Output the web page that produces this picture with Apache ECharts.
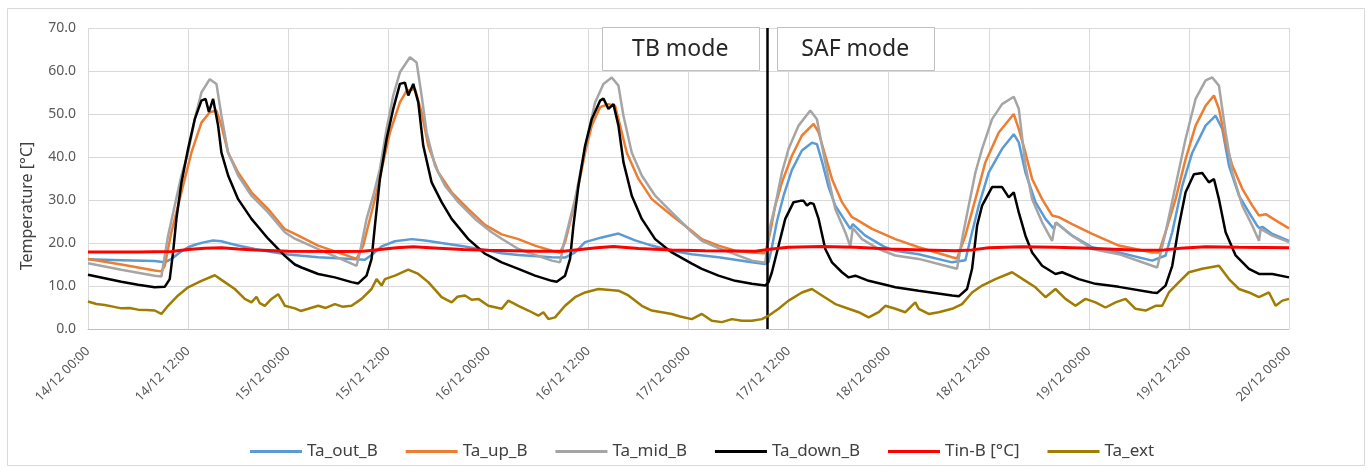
<!DOCTYPE html>
<html>
<head>
<meta charset="utf-8">
<script src="https://cdn.jsdelivr.net/npm/echarts@6/dist/echarts.min.js"></script>
<style>
html,body{margin:0;padding:0;background:#fff;}
#c{width:1368px;height:470px;}
</style>
</head>
<body>
<div id="c"></div>
<script>
// ---- data (hours since 14/12 00:00, temperature °C) ----
const tickLabels = ['14/12 00:00','14/12 12:00','15/12 00:00','15/12 12:00','16/12 00:00','16/12 12:00','17/12 00:00','17/12 12:00','18/12 00:00','18/12 12:00','19/12 00:00','19/12 12:00','20/12 00:00'];
const seriesNames = ['Ta_out_B','Ta_up_B','Ta_mid_B','Ta_down_B','Tin-B [°C]','Ta_ext'];
const modeSwitch = 81.5;
const modeLabels = ['TB mode','SAF mode'];

const taOut = [[0,16.2],[4,16.0],[8,15.8],[9.2,15.5],[10,16.3],[11,17.8],[12,19.0],[13,19.7],[14,20.2],[15,20.6],[16,20.4],[17,19.9],[18,19.4],[20,18.6],[22,17.9],[24,17.3],[27.6,16.7],[31.6,16.3],[33.2,16.1],[34,17.2],[35.2,19.2],[36.8,20.4],[38.8,20.9],[40.4,20.6],[42.4,20.0],[44.8,19.3],[47.6,18.4],[49.6,17.6],[51.6,17.2],[55.6,16.7],[57.2,16.6],[58.4,17.8],[59.6,20.2],[61.6,21.3],[63.6,22.2],[65.6,20.6],[67.6,19.4],[70,18.2],[72.4,17.4],[75.6,16.7],[79.6,15.5],[81.2,15.1],[81.6,15.6],[82.0,19],[82.6,25],[83.4,31],[84.4,37],[85.6,41.5],[86.8,43.3],[87.4,43],[88.0,39],[88.8,33],[89.6,28.7],[90.8,25.1],[91.4,23.3],[91.7,24.4],[93.2,21.7],[95.6,19.0],[96.8,18.2],[99.6,17.4],[103.6,15.5],[105.2,16.0],[106,22.5],[106.8,28.7],[108,36.4],[109.6,41.9],[111,45.3],[111.6,43.4],[112.4,36.4],[113.6,29.5],[114.8,25.6],[115.8,23.3],[116.1,24.7],[118,21.7],[120.4,19.0],[123.6,17.8],[127.6,15.9],[129.2,17.1],[130,22.5],[131.2,33.3],[132.4,41],[134,47.3],[135.2,49.6],[136,46.5],[136.8,38],[138,31],[139.2,27.1],[140.2,24],[140.5,23.4],[140.8,23.8],[142,22.1],[144,20.5]];

const taUp = [[0,16.3],[4,15.0],[8,13.6],[8.8,13.4],[9.2,14.7],[10,22.5],[10.8,28.7],[11.6,34.9],[12.4,41],[13.6,48],[14.6,50.4],[15.4,50.8],[16,47.3],[16.8,41],[18,36.4],[19.6,31.8],[21.6,27.9],[23.6,23.2],[24.8,22.1],[27.6,19.4],[31.6,16.7],[32.2,16.3],[33,19.4],[33.8,25.6],[34.6,31.8],[35.4,38.8],[36.2,45.7],[37.4,52.7],[38.2,55.4],[39.2,55.8],[40,50.4],[40.8,42.6],[42,36.4],[43.6,31.8],[45.6,27.9],[47.6,24.2],[49.6,22.0],[51.6,20.9],[53.6,19.4],[55.6,18.2],[56.6,17.8],[57.2,20.2],[58,26.4],[58.8,33.3],[59.6,41],[60.4,47.3],[61.4,51.6],[62.4,52.3],[63.2,51.9],[63.8,47.3],[64.6,41],[66,34.9],[67.6,30.2],[70,26.4],[72.4,22.8],[73.6,20.9],[75.6,19.4],[77.6,18.2],[79.6,17.8],[81.2,17.6],[81.8,22.5],[82.4,28.7],[83.2,34.1],[84.4,40.3],[85.6,45],[87,47.7],[87.6,45.7],[88.4,40.3],[89.2,34.9],[90.4,29.5],[91.6,26],[92,25.6],[94,23.3],[96.8,20.9],[99.6,19],[103.6,16.7],[104.2,16.4],[105.2,21.7],[106.4,30.2],[107.6,38.8],[109.2,45.7],[111,50],[111.6,46.5],[112.4,41],[113.2,34.9],[114.4,30.2],[115.6,26.4],[116.4,26],[118,24.4],[120.4,22.1],[123.6,19.4],[127.6,17.8],[128.4,17.8],[129.2,22.5],[130.4,30.2],[131.6,39.5],[132.8,47.3],[134,51.9],[135,54.3],[135.6,51.2],[136.4,43.4],[137.2,38],[138.4,32.6],[139.6,28.7],[140.4,26.4],[141.2,26.7],[142.8,24.8],[144,23.4]];

const taMid = [[0,15.3],[4,13.8],[8,12.4],[8.8,12.2],[9.6,21.7],[10.4,28.7],[11.2,35.7],[12,41],[12.8,48.8],[13.6,55],[14.6,58.1],[15.4,57],[16,49.6],[16.8,41],[18,35.7],[19.6,31],[21.6,27.1],[23.6,22.5],[24.8,21.0],[27.6,18.6],[31.6,15.2],[32.2,14.7],[32.6,17.8],[33.4,25.6],[34.2,31],[35,37.2],[35.8,46.5],[36.6,54.3],[37.4,59.7],[38.6,63.2],[39.4,62],[40,54.3],[40.6,45.7],[41.6,38],[42.8,33.3],[44.4,29.5],[46.4,25.6],[48.4,22.5],[49.6,21.0],[51.6,18.6],[55.6,15.9],[56.6,15.5],[57,19.4],[57.6,24],[58.4,30.2],[59.2,38],[60,45.7],[60.8,52.7],[61.8,57],[62.8,58.5],[63.6,56.6],[64.2,49.6],[65.2,41],[66.4,35.7],[68,31],[70,27.1],[72.4,22.5],[73.6,20.5],[75.6,18.8],[79.6,15.9],[81.2,15.4],[81.8,24],[82.4,28.7],[83.2,36.4],[84,41.9],[85.2,47.3],[86.6,50.8],[87.4,48.8],[88,42.6],[88.8,34.9],[89.6,27.9],[90.8,22.5],[91.4,19.2],[91.7,23.5],[92.8,20.9],[94.8,18.6],[96.8,17.1],[99.6,16.3],[103.6,14.3],[104.2,14],[104.8,20.9],[105.6,28.7],[106.4,36.4],[107.2,41.9],[108.4,48.8],[109.6,52.3],[111,54],[111.6,51.2],[112.4,38],[113.2,30.2],[114.4,24.8],[115.6,20.5],[116.0,24.8],[118,21.7],[120.4,18.6],[123.6,17.4],[127.6,14.7],[128.2,14.3],[129.2,22.5],[130.4,33.3],[131.6,44.2],[132.8,53.5],[134,57.8],[134.8,58.5],[135.6,56.6],[136.4,45.7],[137.2,36.4],[138.4,28.7],[139.6,24],[140.4,20.5],[140.6,23.3],[142,21.7],[144,20.2]];

const taDown = [[0,12.6],[2,11.8],[4,11.0],[6,10.3],[8,9.7],[9.2,9.8],[9.8,11.6],[10.2,17.8],[10.6,25.6],[11.2,34],[12,41.9],[12.8,48.8],[13.6,53.1],[14.1,53.5],[14.5,50.5],[15,53.5],[15.6,47.3],[16,41],[16.8,35.7],[18,30.2],[19.6,25.6],[21.6,21],[23.6,17],[24.8,15],[25.6,14.3],[27.6,12.8],[29.6,12],[31.6,10.9],[32.4,10.6],[33.4,12.4],[34,16.3],[34.4,24],[35,34.9],[35.8,44.2],[36.6,51.2],[37.4,57],[38,57.3],[38.4,54.3],[39,57],[39.6,52.7],[40.2,42.6],[41.2,34.1],[42.4,29.5],[43.6,25.6],[45.6,20.9],[47.6,17.5],[48.8,16.3],[49.6,15.5],[51.6,14],[53.6,12.4],[55.6,11.2],[56.2,11],[57.2,12.4],[57.8,16.3],[58.2,24],[58.8,33.3],[59.6,42.6],[60.4,48.8],[61.4,53.1],[61.8,53.6],[62.4,51.2],[63,52.3],[63.6,47.3],[64.2,38.8],[65.2,31],[66.4,25.6],[68,20.9],[70,17.8],[72.4,15.2],[73.6,14],[75.6,12.4],[77.6,11.2],[79.6,10.5],[81.2,10.1],[81.6,10.9],[82,13.2],[82.8,19.4],[83.6,25.6],[84.6,29.5],[85.4,29.8],[85.8,29.8],[86.2,28.7],[86.6,29.3],[87,29.1],[87.6,25.6],[88.4,18.6],[89.2,15.5],[90.4,13.2],[91.2,12],[92,12.4],[93.6,11.2],[95.6,10.3],[96.8,9.7],[99.6,8.9],[103.6,7.8],[104.4,7.6],[105.4,9.3],[106,14],[106.6,24],[107.2,28.7],[108.4,33],[109.6,33],[110.4,30.6],[111,31.8],[111.6,27.1],[112.4,21.7],[113.2,17.8],[114.4,14.7],[116,12.8],[116.8,13.2],[118.8,11.6],[120.8,10.5],[123.6,9.8],[127.6,8.5],[128.2,8.4],[129.2,10.1],[130,14.7],[130.8,24],[131.6,31.8],[132.6,36],[133.6,36.3],[134.4,34.1],[135,34.9],[135.6,30.2],[136.4,22.5],[137.6,17.1],[139.2,14],[140.4,12.8],[142,12.8],[144,12]];

const tinB = [[0,17.9],[6,17.9],[10,18.0],[12,18.5],[14,18.8],[16,18.9],[18,18.6],[20,18.4],[24,18.1],[30,18.0],[33,18.1],[35,18.5],[37,18.9],[39,19.1],[42,18.8],[45,18.5],[48,18.3],[54,18.1],[57,18.1],[59,18.5],[61,18.9],[63,19.2],[66,18.7],[70,18.4],[74,18.2],[80,18.1],[82,18.6],[84,19.0],[88,19.2],[92,19.0],[96,18.6],[100,18.4],[104,18.2],[106,18.4],[108,18.9],[112,19.1],[116,19.0],[120,18.8],[126,18.3],[129,18.4],[131,18.8],[134,19.1],[138,19.0],[144,18.9]];

const taExt = [[0,6.4],[1,5.8],[2,5.6],[3,5.2],[4,4.8],[5,4.9],[6,4.5],[7,4.4],[8,4.3],[8.8,3.5],[9.6,5.4],[10.8,7.8],[12,9.7],[13.6,11.2],[15.2,12.5],[16.4,10.9],[17.6,9.3],[18.8,7],[19.6,6.2],[20.2,7.5],[20.6,6],[21.2,5.4],[22,7],[22.8,8.1],[23.3,6.5],[23.6,5.4],[24.8,4.8],[25.5,4.2],[26.4,4.7],[27.6,5.4],[28.5,4.9],[29.6,5.8],[30.5,5.2],[31.6,5.4],[32.8,7],[34,9.3],[34.6,11.6],[35.2,10.1],[35.6,11.6],[36.8,12.4],[38.4,13.8],[39.6,12.8],[40.8,10.9],[42.4,7.4],[43.6,6.2],[44.3,7.5],[45.2,7.8],[46,6.8],[46.8,7],[48,5.4],[49.6,4.7],[50.4,6.6],[51.6,5.4],[52.8,4.3],[54,3.1],[54.6,3.9],[55.2,2.3],[56,2.7],[57.2,5.4],[58.4,7.4],[59.6,8.5],[61.2,9.3],[63.6,8.9],[64.8,7.8],[66.4,5.4],[67.6,4.3],[70,3.5],[71,2.9],[72.4,2.3],[73.6,3.5],[74.8,1.9],[76,1.6],[77.2,2.3],[78.4,1.9],[79.6,1.9],[80.8,2.3],[81.6,3.1],[82.8,4.7],[84,6.6],[85.6,8.5],[86.8,9.3],[88,7.8],[89.6,5.8],[91.2,4.7],[92.4,3.9],[93.6,2.7],[94.8,3.9],[95.6,5.4],[96.8,4.7],[98,3.9],[99.2,6.2],[99.6,4.7],[100.8,3.5],[102,3.9],[103.6,4.7],[104.8,5.8],[106,8.5],[107.2,10.1],[108.8,11.6],[110.8,13.2],[112.4,11.2],[113.6,9.7],[114.8,7.4],[116,9.3],[117.2,7],[118.4,5.4],[119.6,7],[120.8,6.2],[122,5],[123.2,6.2],[124.4,7],[125.6,4.7],[126.8,4.3],[128,5.4],[128.8,5.4],[129.6,8.5],[130.8,10.9],[132,13.2],[133.6,14],[135.6,14.7],[136.8,11.6],[138,9.3],[139.2,8.5],[140.4,7.4],[141.6,8.5],[142.4,5.4],[143.2,6.6],[144,7]];

const seriesData = [taOut, taUp, taMid, taDown, tinB, taExt];
const colors = ['#5B9BD5','#ED7D31','#A5A5A5','#000000','#FF0000','#A07C00'];
const widths = [2.5,2.5,2.5,2.5,3,2.5];

const FONT = 'Noto Sans';
const chart = echarts.init(document.getElementById('c'), null, {renderer:'canvas'});

const series = seriesNames.map((n,i)=>({
  name:n, type:'line', data:seriesData[i], showSymbol:false, symbol:'none',
  lineStyle:{color:colors[i], width:widths[i]}, itemStyle:{color:colors[i]},
  z: 2+i
}));
series[3].markLine = {
  silent:true, symbol:'none', label:{show:false},
  lineStyle:{color:'#000', width:2.5, type:'solid'},
  data:[{xAxis:modeSwitch}]
};

chart.setOption({
  animation:false,
  backgroundColor:'#fff',
  textStyle:{fontFamily:FONT},
  grid:{left:88, right:79, top:28, bottom:141, containLabel:false},
  legend:{
    data:seriesNames, left:245, top:438, itemWidth:52, itemHeight:3, itemGap:28,
    icon:'rect', textStyle:{fontFamily:FONT, fontSize:17, color:'#404040'}
  },
  xAxis:{
    type:'value', min:0, max:144, interval:12,
    axisLine:{show:true, lineStyle:{color:'#BFBFBF', width:1}},
    axisTick:{show:false},
    splitLine:{show:true, lineStyle:{color:'#D9D9D9', width:1}},
    axisLabel:{rotate:45, margin:20, fontFamily:FONT, fontSize:13, color:'#595959',
      formatter:(v)=>tickLabels[Math.round(v/12)]}
  },
  yAxis:{
    type:'value', min:0, max:70, interval:10,
    axisLine:{show:false}, axisTick:{show:false},
    splitLine:{show:true, lineStyle:{color:'#D9D9D9', width:1}},
    axisLabel:{margin:12, fontFamily:FONT, fontSize:14, color:'#595959',
      formatter:(v)=>v.toFixed(1)}
  },
  series:series
});

const px = chart.convertToPixel({xAxisIndex:0}, modeSwitch);
const boxTop = 27, boxH = 43, boxW = 157, boxGap = 9;
chart.setOption({
  graphic:[
    {type:'rect', z:-1, shape:{x:7.5,y:8.5,width:1357,height:457}, style:{fill:'#fff', stroke:'#D9D9D9', lineWidth:1}, silent:true},
    {type:'text', x:27, y:206, rotation:Math.PI/2, style:{text:'Temperature [°C]', font:'16px "Noto Sans"', fill:'#404040', align:'center', verticalAlign:'middle'}},
    {type:'rect', z:100, shape:{x:Math.round(px-boxGap-boxW)+0.5, y:boxTop+0.5, width:boxW, height:boxH}, style:{fill:'#fff', stroke:'#BFBFBF', lineWidth:1}},
    {type:'text', z:101, x:px-boxGap-boxW/2, y:boxTop+boxH/2+1, style:{text:modeLabels[0], font:'23px "Noto Sans"', fill:'#262626', align:'center', verticalAlign:'middle'}},
    {type:'rect', z:100, shape:{x:Math.round(px+boxGap)+0.5, y:boxTop+0.5, width:boxW, height:boxH}, style:{fill:'#fff', stroke:'#BFBFBF', lineWidth:1}},
    {type:'text', z:101, x:px+boxGap+boxW/2, y:boxTop+boxH/2+1, style:{text:modeLabels[1], font:'23px "Noto Sans"', fill:'#262626', align:'center', verticalAlign:'middle'}}
  ]
});
</script>
</body>
</html>
